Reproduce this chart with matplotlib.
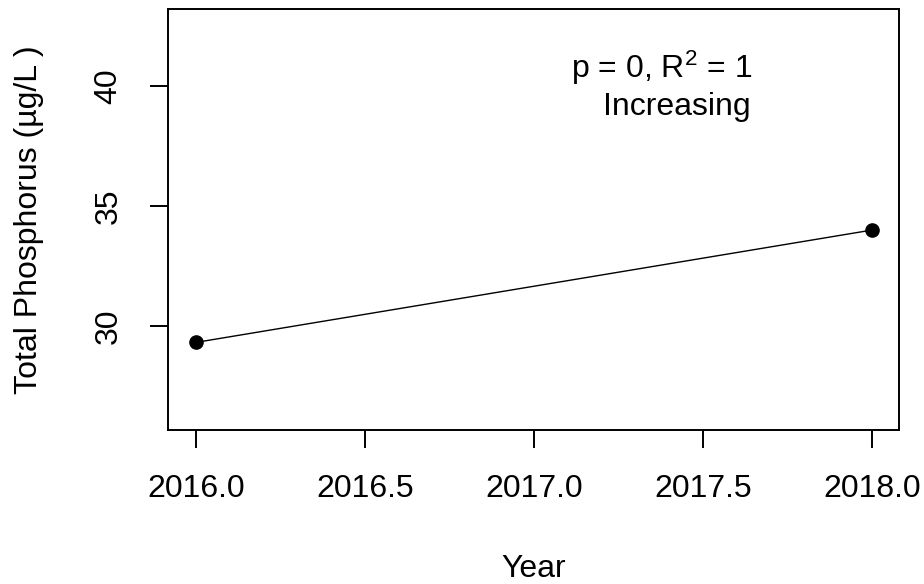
import matplotlib
matplotlib.use("Agg")
import matplotlib.pyplot as plt

# data
years = [2016, 2018]
total_p = [29.32, 34.0]
x_ticks = [2016.0, 2016.5, 2017.0, 2017.5, 2018.0]
x_tick_labels = ["2016.0", "2016.5", "2017.0", "2017.5", "2018.0"]
y_ticks = [30, 35, 40]
stat_text = r"p = 0, R$^2$ = 1"
trend_text = "Increasing"

plt.rcParams['font.family'] = ['Liberation Sans', 'DejaVu Sans']
plt.rcParams['mathtext.fontset'] = 'custom'
plt.rcParams['mathtext.rm'] = 'Liberation Sans'
plt.rcParams['mathtext.it'] = 'Liberation Sans'

fig = plt.figure(figsize=(9.24, 5.84), dpi=100)
ax = fig.add_axes([168 / 924, (584 - 430) / 584, (899 - 168) / 924, (430 - 9) / 584])

ax.plot(years, total_p, color='black', lw=1.0, marker='o', markersize=9.5)

ax.set_xlim(2015.917, 2018.08)
ax.set_ylim(25.67, 43.21)
ax.set_xticks(x_ticks)
ax.set_xticklabels(x_tick_labels)
ax.set_yticks(y_ticks)
ax.set_yticklabels([str(v) for v in y_ticks], rotation=90, va='center')

ax.tick_params(axis='both', direction='out', length=13, width=1.4, labelsize=23, colors='black')
ax.tick_params(axis='x', pad=19)
ax.tick_params(axis='y', pad=19)
for sp in ax.spines.values():
    sp.set_linewidth(1.4)

# annotation (right aligned)
ax.text(0.799, 0.836, stat_text, transform=ax.transAxes, ha='right', va='baseline', fontsize=23)
ax.text(0.797, 0.748, trend_text, transform=ax.transAxes, ha='right', va='baseline', fontsize=23)

fig.text(533.5 / 924, (584 - 577) / 584, "Year", ha='center', va='baseline', fontsize=23)
fig.text(29 / 924, (584 - 219.5) / 584, "Total Phosphorus (µg/L )", rotation=90,
         ha='center', va='center', fontsize=23)

fig.savefig("out.png", dpi=100)
